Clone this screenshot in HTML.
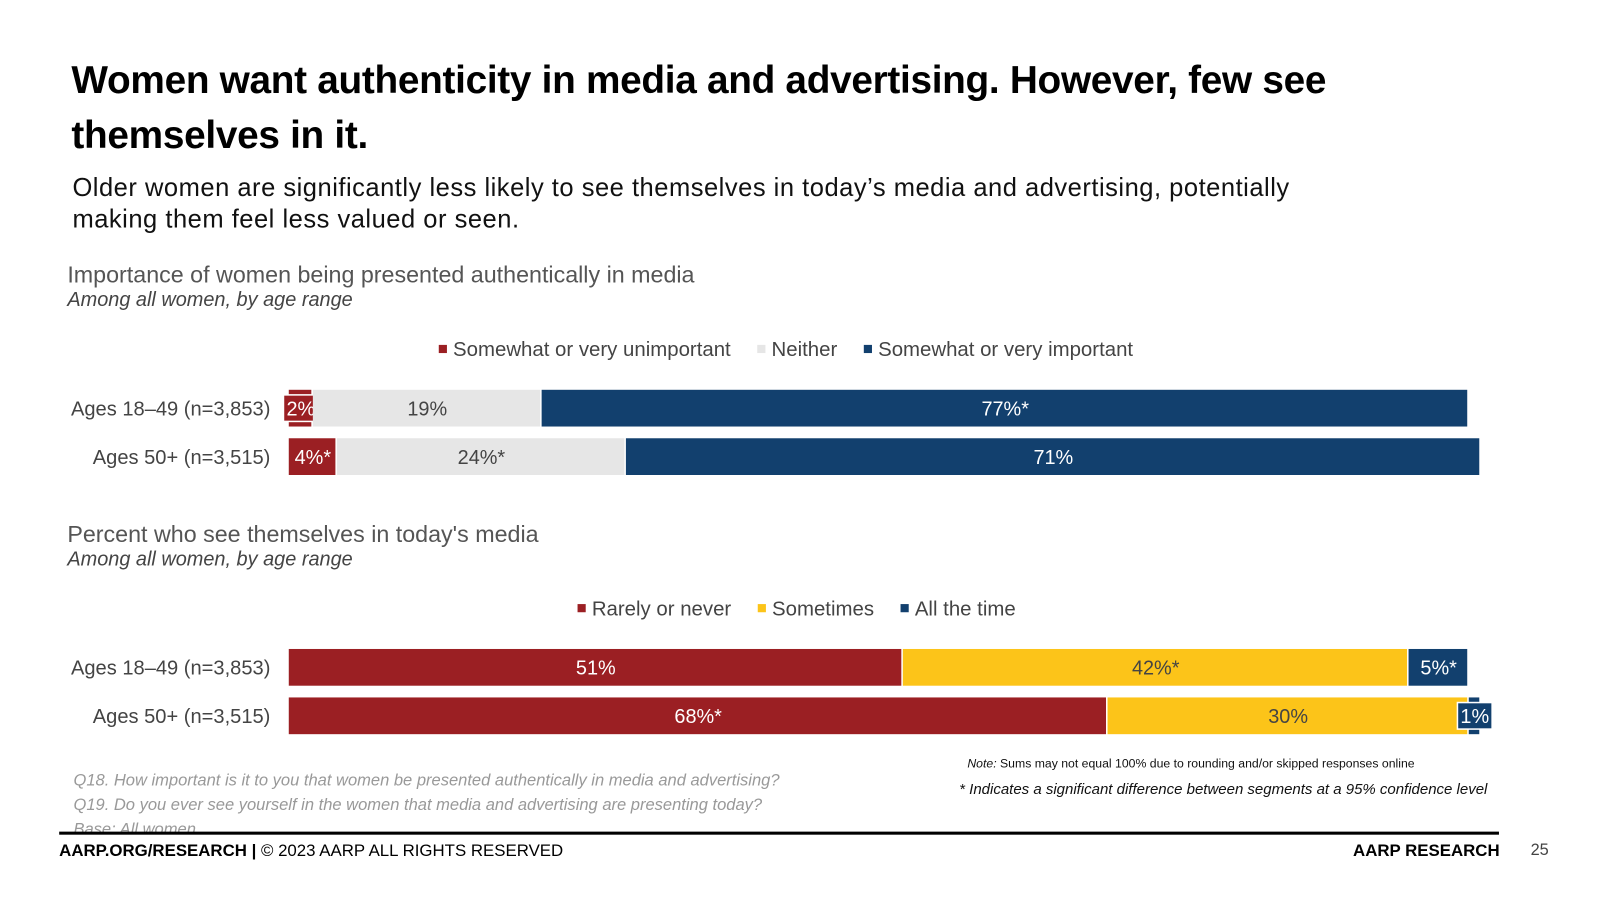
<!DOCTYPE html>
<html><head><meta charset="utf-8"><style>
body{margin:0;width:1600px;height:900px;background:#fff;font-family:"Liberation Sans",sans-serif;overflow:hidden;position:relative}
#wrap{position:absolute;left:0;top:0;width:1600px;height:900px;transform:scale(1.0204);transform-origin:0 0}
.a{position:absolute;white-space:nowrap}
</style></head><body>
<div id="wrap">
<div class="a" style="left:70px;top:52px;font-size:38px;font-weight:bold;line-height:54px;color:#000;letter-spacing:-0.3px">Women want authenticity in media and advertising. However, few see<br>themselves in it.</div>
<div class="a" style="left:71px;top:169px;font-size:25px;letter-spacing:0.5px;line-height:31px;color:#111">Older women are significantly less likely to see themselves in today’s media and advertising, potentially<br>making them feel less valued or seen.</div>
<div class="a" style="left:66px;top:256px;font-size:22.8px;color:#555">Importance of women being presented authentically in media</div>
<div class="a" style="left:66px;top:283px;font-size:19.5px;font-style:italic;color:#444">Among all women, by age range</div>
<div class="a" style="left:66px;top:510px;font-size:22.8px;color:#555">Percent who see themselves in today's media</div>
<div class="a" style="left:66px;top:537px;font-size:19.5px;font-style:italic;color:#444">Among all women, by age range</div>
<svg id="c" class="a" style="left:0;top:0" width="1600" height="900"></svg>
<div class="a" style="left:72px;top:753px;font-size:16.2px;font-style:italic;line-height:24px;color:#999">Q18. How important is it to you that women be presented authentically in media and advertising?<br>Q19. Do you ever see yourself in the women that media and advertising are presenting today?<br>Base: All women</div>
<div class="a" style="left:948px;top:741px;font-size:12px;color:#111"><i>Note:</i> Sums may not equal 100% due to rounding and/or skipped responses online</div>
<div class="a" style="left:940px;top:766px;font-size:14.7px;font-style:italic;color:#111">* Indicates a significant difference between segments at a 95% confidence level</div>
<div class="a" style="left:58px;top:815px;width:1411px;height:3px;background:#000"></div>
<div class="a" style="left:58px;top:825px;font-size:16.5px;color:#000"><b>AARP.ORG/RESEARCH |</b> © 2023 AARP ALL RIGHTS RESERVED</div>
<div class="a" style="left:1326px;top:825px;font-size:16.5px;font-weight:bold;color:#000">AARP RESEARCH</div>
<div class="a" style="left:1500px;top:825px;font-size:16px;color:#444">25</div>
</div>
<script>
const rows = ["Ages 18–49 (n=3,853)", "Ages 50+ (n=3,515)"];
const c1Series = ["Somewhat or very unimportant", "Neither", "Somewhat or very important"];
const c1Vals = [[2, 19, 77], [4, 24, 71]];
const c1Labels = [["2%", "19%", "77%*"], ["4%*", "24%*", "71%"]];
const c2Series = ["Rarely or never", "Sometimes", "All the time"];
const c2Vals = [[51, 42, 5], [68, 30, 1]];
const c2Labels = [["51%", "42%*", "5%*"], ["68%*", "30%", "1%"]];
const NS = "http://www.w3.org/2000/svg";
const svg = document.getElementById("c");
const X0 = 283, PX = 11.8;
const x = v => X0 + v * PX;
function el(t, a, txt){const e=document.createElementNS(NS,t);for(const k in a)e.setAttribute(k,a[k]);if(txt!=null)e.textContent=txt;svg.appendChild(e);return e;}
function chart(series, vals, labels, colors, txtCol, legY, barY, legX, name){
  let lx = legX;
  series.forEach((s,i)=>{
    const r=el("rect",{x:lx,y:legY-5,width:8,height:8,fill:colors[i]});
    
    
    const t=el("text",{x:lx+14,y:legY+6,"font-size":20,fill:"#444","font-family":"Liberation Sans"},s);
    
    
    lx += 14 + t.getComputedTextLength() + 26;
  });
  rows.forEach((rn,ri)=>{
    const y = barY + ri*47.5;
    const t=el("text",{x:265,y:y+25,"font-size":19.7,fill:"#444","text-anchor":"end","font-family":"Liberation Sans"},rn);
    
    
    let acc=0;
    vals[ri].forEach((v,si)=>{
      const x1=x(acc), w=v*PX;
      const r=el("rect",{x:x1,y:y,width:Math.max(w-1.5,1),height:36,fill:colors[si]});
      
      
      const cx=x1+w/2;
      if(w<40){
        const lw = labels[ri][si].length*12+10;
        const b=el("rect",{x:cx-lw/2,y:y+5,width:lw,height:26,fill:colors[si],stroke:"#fff","stroke-width":1.5});
        
        
      }
      const l=el("text",{x:cx,y:y+25,"font-size":19.5,fill:txtCol[si],"text-anchor":"middle","font-family":"Liberation Sans"},labels[ri][si]);
      
      
      acc+=v;
    });
  });
}
chart(c1Series,c1Vals,c1Labels,["#9b1f23","#e6e6e6","#12406e"],["#fff","#444","#fff"],343,382,430,"importance");
chart(c2Series,c2Vals,c2Labels,["#9b1f23","#fcc419","#12406e"],["#fff","#444","#fff"],597,636,566,"see-themselves");
</script>
</body></html>
